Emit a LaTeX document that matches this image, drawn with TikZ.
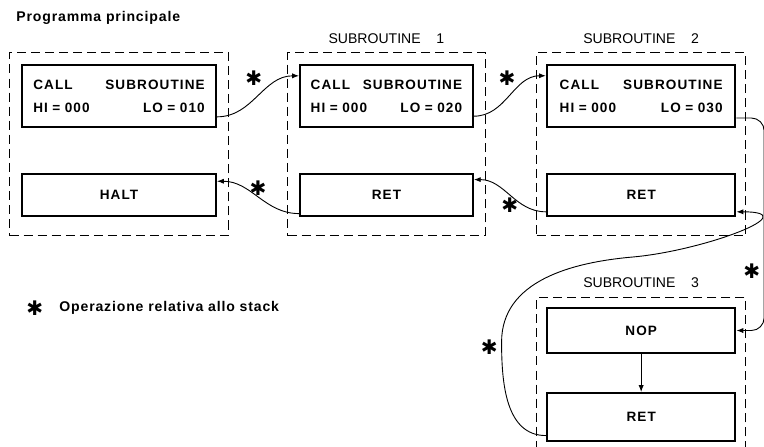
\documentclass[tikz,border=0pt]{standalone}
\usepackage{fontspec}
\usepackage{tikz}
\usetikzlibrary{arrows.meta,positioning,fit,calc}
\setmainfont{Liberation Sans}
\newfontfamily\boxfont{Liberation Sans}[LetterSpace=8]
\newfontfamily\headfont{Liberation Sans}[LetterSpace=6]
\newfontfamily\starfont{DejaVu Sans}
\tikzset{
  callbox/.style={draw, line width=2pt, align=left, minimum height=2.17cm, font=\boxfont\bfseries\fontsize{13.5}{23}\selectfont},
  opbox/.style={draw, line width=2pt, align=center, minimum height=1.47cm, font=\boxfont\bfseries\fontsize{13.5}{16}\selectfont},
  frame/.style={draw, line width=0.9pt, dash pattern=on 9pt off 5pt, inner sep=0.4cm},
  title/.style={font=\fontsize{14}{16}\selectfont, inner sep=0, yshift=0.3cm},
  heading/.style={font=\headfont\bfseries\fontsize{14}{16}\selectfont, inner sep=0},
  stackmark/.style={font=\starfont\fontsize{20}{20}\selectfont, inner sep=0},
  arrow/.style={-{Latex[length=2.4mm,width=1.8mm]}, line width=0.9pt}
}

\begin{document}
\begin{tikzpicture}[node distance=1.575cm and 2.87cm]
  \clip (-4.165,3.36) rectangle (22.575,-12.25);
  % main program
  \node[callbox, minimum width=6.79cm, text width=6.0cm] (c0) {CALL\hfill SUBROUTINE\\HI = 000\hfill LO = 010};
  \node[opbox, minimum width=6.79cm, below=of c0] (h0) {HALT};
  % subroutine 1
  \node[callbox, minimum width=6.05cm, text width=5.3cm, right=of c0] (c1) {CALL\hfill SUBROUTINE\\HI = 000\hfill LO = 020};
  \node[opbox, minimum width=6.05cm, below=of c1] (r1) {RET};
  % subroutine 2
  \node[callbox, minimum width=6.6cm, text width=5.7cm, right=2.52cm of c1] (c2) {CALL\hfill SUBROUTINE\\HI = 000\hfill LO = 030};
  \node[opbox, minimum width=6.6cm, below=of c2] (r2) {RET};
  % subroutine 3
  \node[opbox, minimum width=6.6cm, minimum height=1.575cm, below=3.15cm of r2] (n3) {NOP};
  \node[opbox, minimum width=6.6cm, minimum height=1.68cm, below=1.33cm of n3] (r3) {RET};

  % dashed frames
  \coordinate (f0b) at ($(h0.south)+(0,-0.25)$);
  \node[frame, fit=(c0)(h0)(f0b)] (f0) {};
  \node[heading, anchor=south west] (progtitle) at ($(f0.north west)+(0.25,0.95)$) {Programma principale};
  \coordinate (f1b) at ($(r1.south)+(0,-0.25)$);
  \node[frame, fit=(c1)(r1)(f1b), label={[title]above:SUBROUTINE\hspace{0.55cm}1}] (f1) {};
  \coordinate (f2b) at ($(r2.south)+(0,-0.25)$);
  \node[frame, inner xsep=0.32cm, fit=(c2)(r2)(f2b), label={[title]above:SUBROUTINE\hspace{0.55cm}2}] (f2) {};
  \coordinate (f3b) at ($(r3.south)+(0,-1)$);
  \node[frame, inner xsep=0.32cm, inner ysep=0.35cm, fit=(n3)(r3)(f3b), label={[title]above:SUBROUTINE\hspace{0.55cm}3}] (f3) {};

  % legend
  \node[stackmark, below right=2.25cm and 0.6cm of f0.south west] (legstar) {✱};
  \node[heading, right=0.55cm of legstar] (legtext) {Operazione relativa allo stack};

  % calls and returns
  \coordinate (turn3) at ($(n3.east)+(0.97,0)$);
  \coordinate (ret3L) at ($(n3.west)+(-1.55,-0.4)$);
  \coordinate (ret3T) at ($(r2.south)+(-0.3,-1.4)$);
  \draw[arrow] (c0.-12) to[out=0,in=180] node[stackmark, above=0.35cm, xshift=-0.15cm] {✱} (c1.167);
  \draw[arrow] (c1.-13) to[out=0,in=180] node[stackmark, above=0.35cm, xshift=-0.1cm] {✱} (c2.168);
  \draw[arrow, rounded corners=0.45cm] (c2.-13) -| node[stackmark, pos=0.86, left=0.12cm] {✱} (turn3) -- (n3.east);
  \draw[arrow] (n3) -- (r3);
  \draw[arrow] (r3.191) to[out=180,in=-90] node[stackmark, pos=0.96, left=0.12cm] {✱} (ret3L) to[out=90,in=185] (ret3T) to[out=5,in=0,looseness=1.6] (r2.-10);
  \draw[arrow] (r2.190) to[out=180,in=0] node[stackmark, below=0.05cm] {✱} (r1.10);
  \draw[arrow] (r1.192) to[out=180,in=0] node[stackmark, above=0.05cm] {✱} (h0.8);
\end{tikzpicture}
\end{document}
